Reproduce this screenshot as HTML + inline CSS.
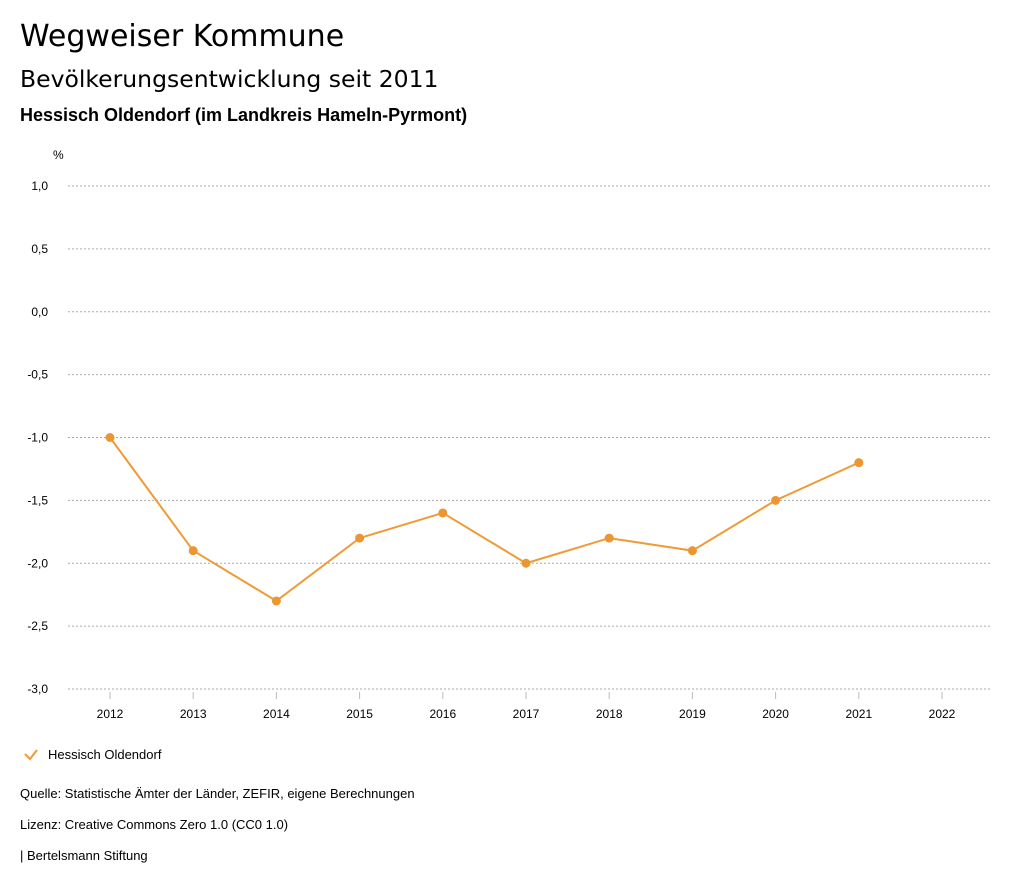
<!DOCTYPE html>
<html><head><meta charset="utf-8"><style>
body{margin:0;width:1024px;height:888px;background:#fff;font-family:"Liberation Sans",sans-serif;color:#000;position:relative;overflow:hidden}
.t{position:absolute;left:20px;white-space:nowrap}
.h{font-family:"DejaVu Sans","Liberation Sans",sans-serif}
</style></head><body>
<div class="t h" style="top:19px;font-size:30px">Wegweiser Kommune</div>
<div class="t h" style="top:65px;font-size:23.5px">Bevölkerungsentwicklung seit 2011</div>
<div class="t" style="top:105px;font-size:18px;font-weight:bold">Hessisch Oldendorf (im Landkreis Hameln-Pyrmont)</div>
<svg id="chart" width="1024" height="888" style="position:absolute;left:0;top:0" font-family="Liberation Sans, sans-serif"></svg>
<div class="t" style="top:786px;font-size:13px">Quelle: Statistische Ämter der Länder, ZEFIR, eigene Berechnungen</div>
<div class="t" style="top:817px;font-size:13px">Lizenz: Creative Commons Zero 1.0 (CC0 1.0)</div>
<div class="t" style="top:848px;font-size:13px">| Bertelsmann Stiftung</div>
<script>
const years=[2012,2013,2014,2015,2016,2017,2018,2019,2020,2021,2022];
const values=[-1.0,-1.9,-2.3,-1.8,-1.6,-2.0,-1.8,-1.9,-1.5,-1.2,null];
const yTicks=[1.0,0.5,0.0,-0.5,-1.0,-1.5,-2.0,-2.5,-3.0];
const seriesName="Hessisch Oldendorf";
const NS="http://www.w3.org/2000/svg";
const svg=document.getElementById('chart');
const yS=v=>186+(1.0-v)*(689-186)/4.0;
const xS=i=>110+i*(942-110)/10;
function mk(t,a,p){const e=document.createElementNS(NS,t);for(const k in a)e.setAttribute(k,a[k]);(p||svg).appendChild(e);return e;}
let u=mk('text',{x:53,y:159,'font-size':12});u.textContent='%';


yTicks.forEach(v=>{
 const y=yS(v);
 const l=mk('line',{x1:68,x2:990,y1:y,y2:y,stroke:'#aaa','stroke-dasharray':'2,2','stroke-width':1});
 
 
 const t=mk('text',{x:48,y:y+4,'font-size':12,'text-anchor':'end'});t.textContent=v.toFixed(1).replace('.',',');
 
 
});
years.forEach((yr,i)=>{
 const x=xS(i);
 const tk=mk('line',{x1:x,x2:x,y1:692,y2:699,stroke:'#bbb'});
 
 
 const t=mk('text',{x:x,y:718,'font-size':12,'text-anchor':'middle'});t.textContent=yr;
 
 
});
const pts=values.map((v,i)=>v===null?null:[xS(i),yS(v)]).filter(p=>p);
const pl=mk('polyline',{points:pts.map(p=>p.join(',')).join(' '),fill:'none',stroke:'#f09a36','stroke-width':2});


pts.forEach(p=>{
 const c=mk('circle',{cx:p[0],cy:p[1],r:4.5,fill:'#ec9632'});
 
 
});
const lg=mk('path',{d:'M25 754 L30 759 L37 750',fill:'none',stroke:'#f09a36','stroke-width':2});


const lt=mk('text',{x:48,y:759,'font-size':13});lt.textContent=seriesName;


</script>
</body></html>
